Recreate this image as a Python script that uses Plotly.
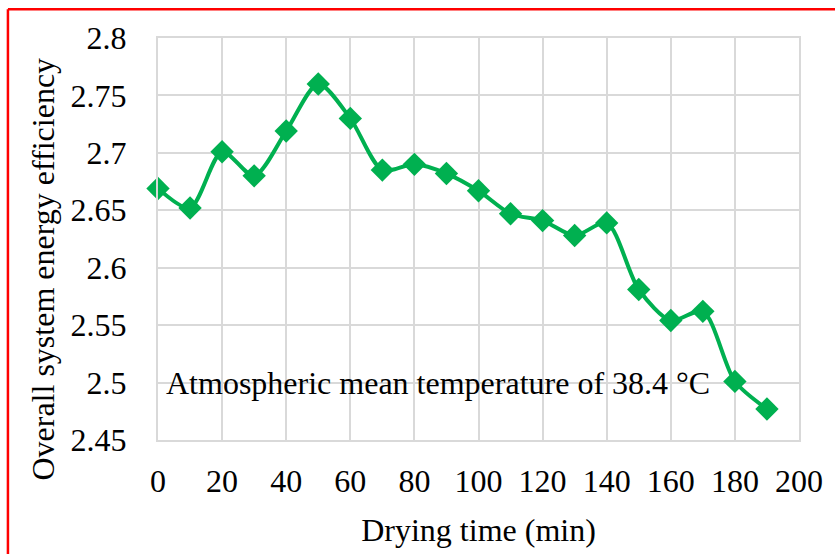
import plotly.graph_objects as go

drying_time = [0, 10, 20, 30, 40, 50, 60, 70, 80, 90, 100, 110, 120, 130, 140, 150, 160, 170, 180, 190]
efficiency = [2.669, 2.652, 2.701, 2.680, 2.719, 2.760, 2.730, 2.685, 2.690, 2.682, 2.667,
              2.647, 2.641, 2.628, 2.639, 2.581, 2.554, 2.562, 2.501, 2.477]

x_ticks = [0, 20, 40, 60, 80, 100, 120, 140, 160, 180, 200]
y_ticks = [2.45, 2.5, 2.55, 2.6, 2.65, 2.7, 2.75, 2.8]
y_tick_text = ["2.45", "2.5", "2.55", "2.6", "2.65", "2.7", "2.75", "2.8"]

FONT = "Liberation Serif"
FS = 32
GRID = "#d9d9d9"
GREEN = "#00B050"

fig = go.Figure()
fig.add_trace(go.Scatter(
    x=drying_time, y=efficiency, mode="lines+markers",
    line=dict(color=GREEN, width=4, shape="spline", smoothing=0.8),
    marker=dict(symbol="diamond", size=18, color=GREEN),
    showlegend=False, cliponaxis=False,
))

fig.add_annotation(
    x=2, y=2.5, xref="x", yref="y", xanchor="left", yanchor="middle",
    text="Atmospheric mean temperature of 38.4 °C", showarrow=False,
    font=dict(family=FONT, size=FS, color="black"),
)

# y-axis title (placed as in the reference, slightly below the plot centre)
fig.add_annotation(
    x=(42 - 158) / 645, y=(442 - 270) / 404, xref="paper", yref="paper",
    xanchor="center", yanchor="middle", textangle=-90, showarrow=False,
    text="Overall system energy efficiency",
    font=dict(family=FONT, size=FS, color="black"),
)

fig.update_layout(
    width=835, height=554,
    margin=dict(l=158, r=32, t=38, b=112),
    paper_bgcolor="white", plot_bgcolor="white",
    font=dict(family=FONT, size=FS, color="black"),
    xaxis=dict(
        range=[0, 200], tickvals=x_ticks, showgrid=True, gridcolor=GRID, gridwidth=2,
        showline=True, linecolor=GRID, linewidth=2, mirror=True, zeroline=False,
        ticks="", tickfont=dict(family=FONT, size=FS, color="black"), ticklabelstandoff=12,
        title=dict(text="Drying time (min)", font=dict(family=FONT, size=FS, color="black"),
                   standoff=20),
    ),
    yaxis=dict(
        range=[2.45, 2.8], tickvals=y_ticks, ticktext=y_tick_text, showgrid=True,
        gridcolor=GRID, gridwidth=2, showline=True, linecolor=GRID, linewidth=2,
        mirror=True, zeroline=False, ticks="",
        tickfont=dict(family=FONT, size=FS, color="black"), ticklabelstandoff=23,
    ),
)

# red outer frame (left and top edges visible)
fx = (7 - 158) / 645
fy = 1 + (38 - 9) / 404
fig.add_shape(type="line", xref="paper", yref="paper",
              x0=fx, x1=fx, y0=-0.5, y1=fy, line=dict(color="red", width=2.5))
fig.add_shape(type="line", xref="paper", yref="paper",
              x0=fx, x1=1.5, y0=fy, y1=fy, line=dict(color="red", width=2.5))

fig.write_html("out.html")
